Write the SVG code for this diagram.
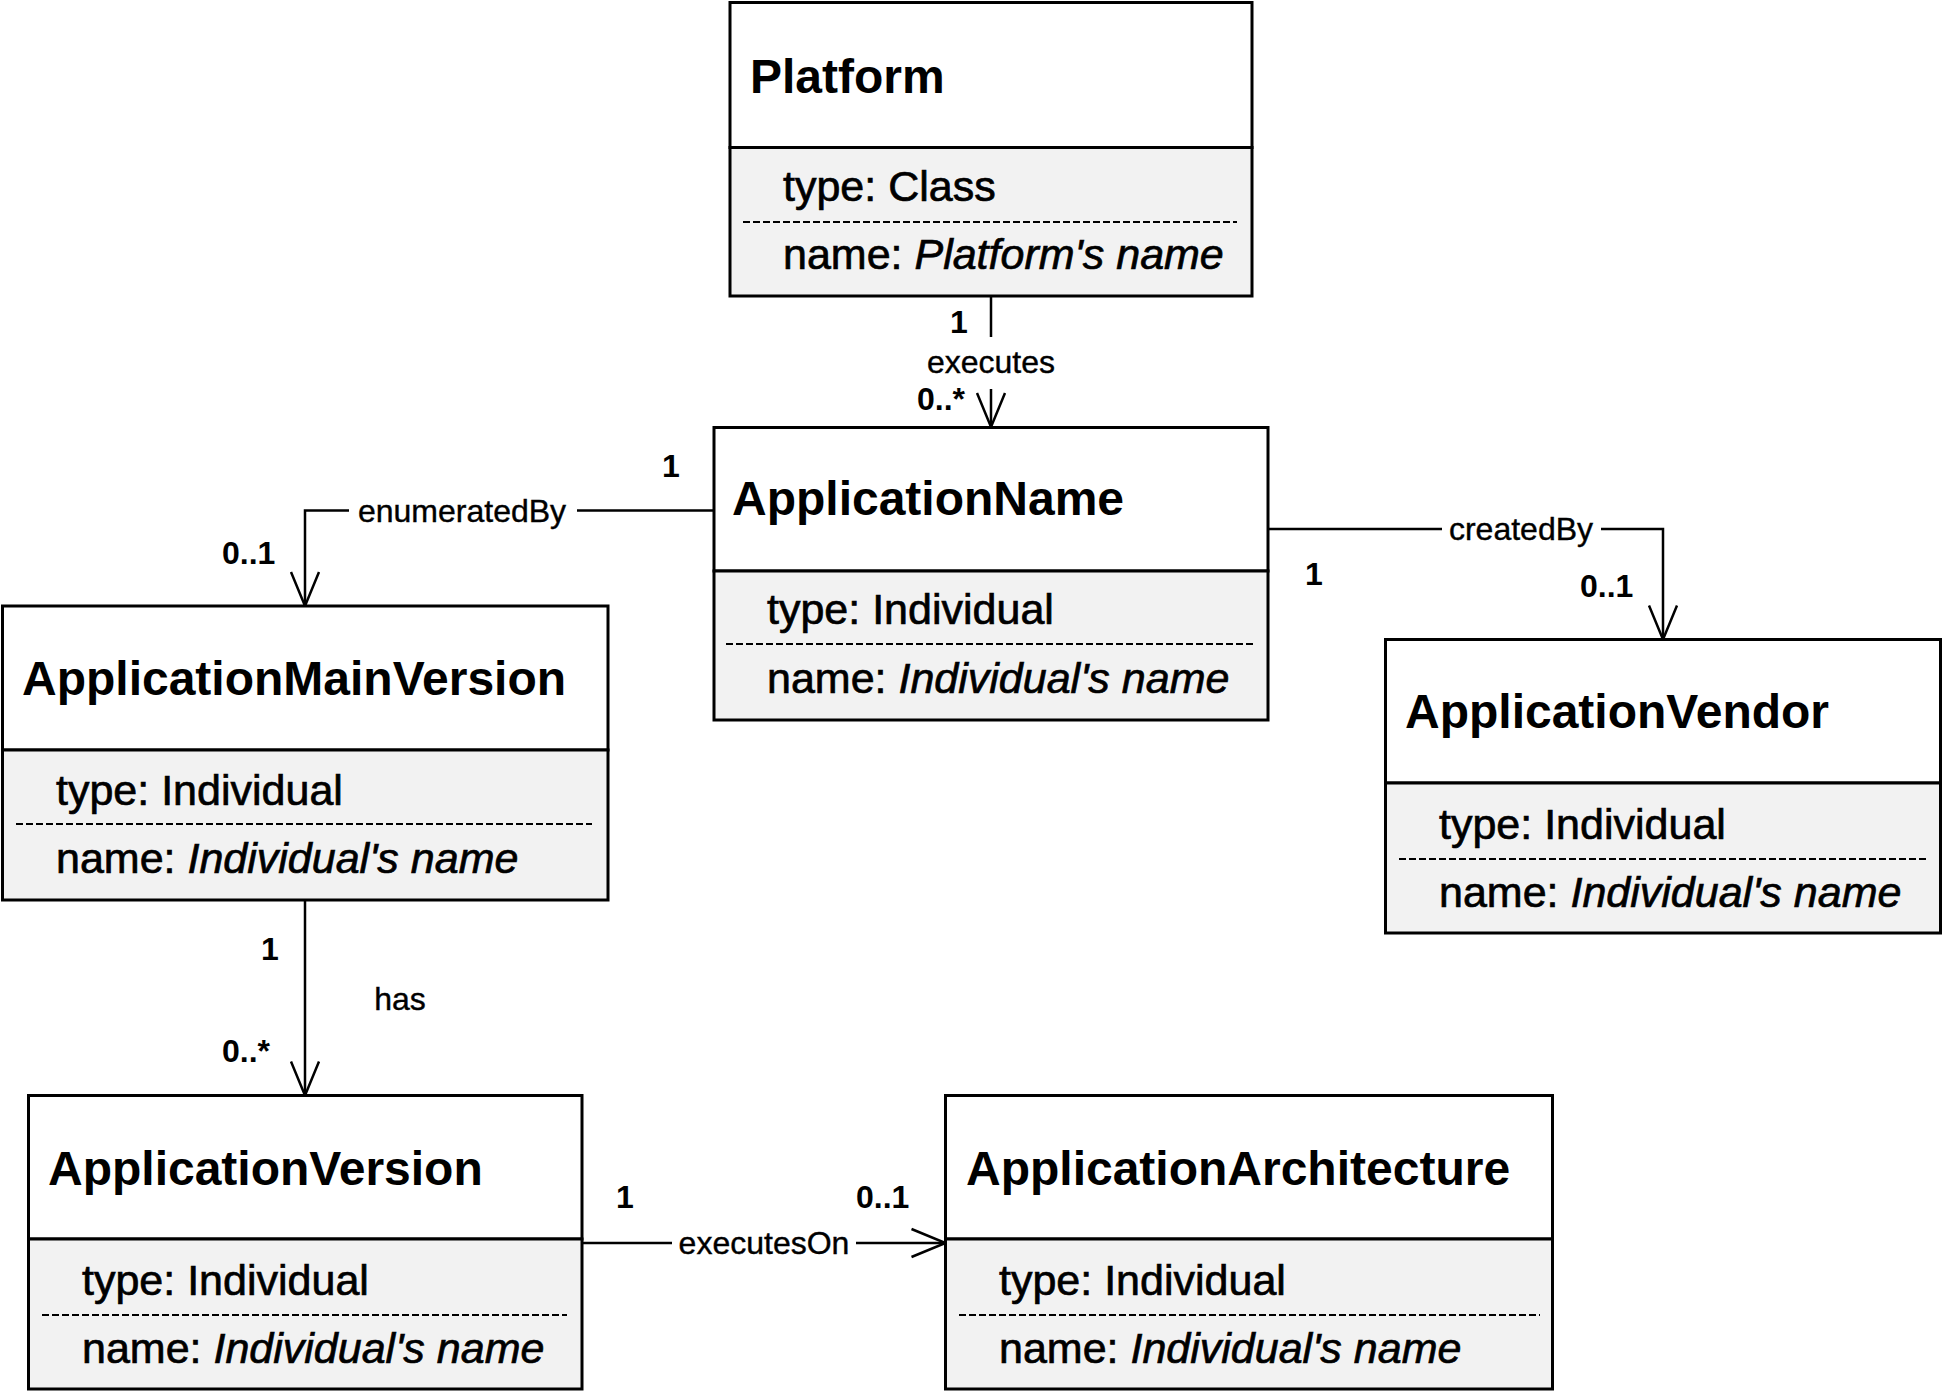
<svg xmlns="http://www.w3.org/2000/svg" width="1943" height="1393" viewBox="0 0 1943 1393">
<defs>
<style>
.box{fill:#ffffff;stroke:#000;stroke-width:3}
.attr{fill:#f2f2f2;stroke:#000;stroke-width:3}
.dash{stroke:#000;stroke-width:2;stroke-dasharray:7 3;fill:none}
.title{font-family:"Liberation Sans",Arial,sans-serif;font-weight:bold;font-size:48px;fill:#000}
.at{font-family:"Liberation Sans",Arial,sans-serif;font-size:43px;fill:#000;stroke:#000;stroke-width:0.7}
.it{font-style:italic}
.lbl{font-family:"Liberation Sans",Arial,sans-serif;font-size:32px;fill:#000;stroke:#000;stroke-width:0.4;text-anchor:middle}
.mul{font-family:"Liberation Sans",Arial,sans-serif;font-size:32px;font-weight:bold;fill:#000}
.edge{fill:none;stroke:#000;stroke-width:2.5}
</style>
<marker id="open" markerUnits="userSpaceOnUse" viewBox="-38 -18 42 36" refX="0" refY="0" markerWidth="42" markerHeight="36" orient="auto" overflow="visible">
<path d="M-34,-14 L0,0 L-34,14" fill="none" stroke="#000" stroke-width="2.5"/>
</marker>
</defs>

<g id="connectors">
<path class="edge" d="M991,296 V337 M991,389 V427" marker-end="url(#open)"/>
<text class="lbl" x="991" y="373">executes</text>
<text class="mul" x="950" y="333">1</text>
<text class="mul" x="917" y="410">0..*</text>

<path class="edge" d="M714,510.5 H577 M349,510.5 H305 V606" marker-end="url(#open)"/>
<text class="lbl" x="462" y="522">enumeratedBy</text>
<text class="mul" x="662" y="477">1</text>
<text class="mul" x="222" y="564">0..1</text>

<path class="edge" d="M1268,529 H1442 M1601,529 H1663 V639.5" marker-end="url(#open)"/>
<text class="lbl" x="1521" y="540">createdBy</text>
<text class="mul" x="1305" y="585">1</text>
<text class="mul" x="1580" y="597">0..1</text>

<path class="edge" d="M305,900 V1095.5" marker-end="url(#open)"/>
<text class="lbl" x="400" y="1010">has</text>
<text class="mul" x="261" y="960">1</text>
<text class="mul" x="222" y="1062">0..*</text>

<path class="edge" d="M582,1243 H672 M856,1243 H945.5" marker-end="url(#open)"/>
<text class="lbl" x="764" y="1254">executesOn</text>
<text class="mul" x="616" y="1208">1</text>
<text class="mul" x="856" y="1208">0..1</text>
</g>

<g id="Platform">
<rect class="box" x="730" y="2.5" width="522" height="145"/>
<rect class="attr" x="730" y="147.5" width="522" height="148.5"/>
<text class="title" x="750" y="93">Platform</text>
<text class="at" x="783" y="201">type: Class</text>
<line class="dash" x1="743" y1="222" x2="1237" y2="222"/>
<text class="at" x="783" y="269">name: <tspan class="it">Platform's name</tspan></text>
</g>

<g id="ApplicationName">
<rect class="box" x="714" y="427.5" width="554" height="143.5"/>
<rect class="attr" x="714" y="571" width="554" height="149"/>
<text class="title" x="732" y="515">ApplicationName</text>
<text class="at" x="767" y="624">type: Individual</text>
<line class="dash" x1="726" y1="644" x2="1254" y2="644"/>
<text class="at" x="767" y="693">name: <tspan class="it">Individual's name</tspan></text>
</g>

<g id="ApplicationMainVersion">
<rect class="box" x="2.5" y="606" width="605.5" height="144"/>
<rect class="attr" x="2.5" y="750" width="605.5" height="150"/>
<text class="title" x="22" y="695">ApplicationMainVersion</text>
<text class="at" x="56" y="805">type: Individual</text>
<line class="dash" x1="16" y1="824" x2="592" y2="824"/>
<text class="at" x="56" y="873">name: <tspan class="it">Individual's name</tspan></text>
</g>

<g id="ApplicationVendor">
<rect class="box" x="1385.5" y="639.5" width="555" height="143.5"/>
<rect class="attr" x="1385.5" y="783" width="555" height="150"/>
<text class="title" x="1405" y="728">ApplicationVendor</text>
<text class="at" x="1439" y="839">type: Individual</text>
<line class="dash" x1="1399" y1="859" x2="1927" y2="859"/>
<text class="at" x="1439" y="907">name: <tspan class="it">Individual's name</tspan></text>
</g>

<g id="ApplicationVersion">
<rect class="box" x="28.5" y="1095.5" width="553.5" height="143.5"/>
<rect class="attr" x="28.5" y="1239" width="553.5" height="150"/>
<text class="title" x="48" y="1185">ApplicationVersion</text>
<text class="at" x="82" y="1295">type: Individual</text>
<line class="dash" x1="42" y1="1315" x2="567" y2="1315"/>
<text class="at" x="82" y="1363">name: <tspan class="it">Individual's name</tspan></text>
</g>

<g id="ApplicationArchitecture">
<rect class="box" x="945.5" y="1095.5" width="607" height="143.5"/>
<rect class="attr" x="945.5" y="1239" width="607" height="150"/>
<text class="title" x="966" y="1185">ApplicationArchitecture</text>
<text class="at" x="999" y="1295">type: Individual</text>
<line class="dash" x1="959" y1="1315" x2="1540" y2="1315"/>
<text class="at" x="999" y="1363">name: <tspan class="it">Individual's name</tspan></text>
</g>
</svg>
